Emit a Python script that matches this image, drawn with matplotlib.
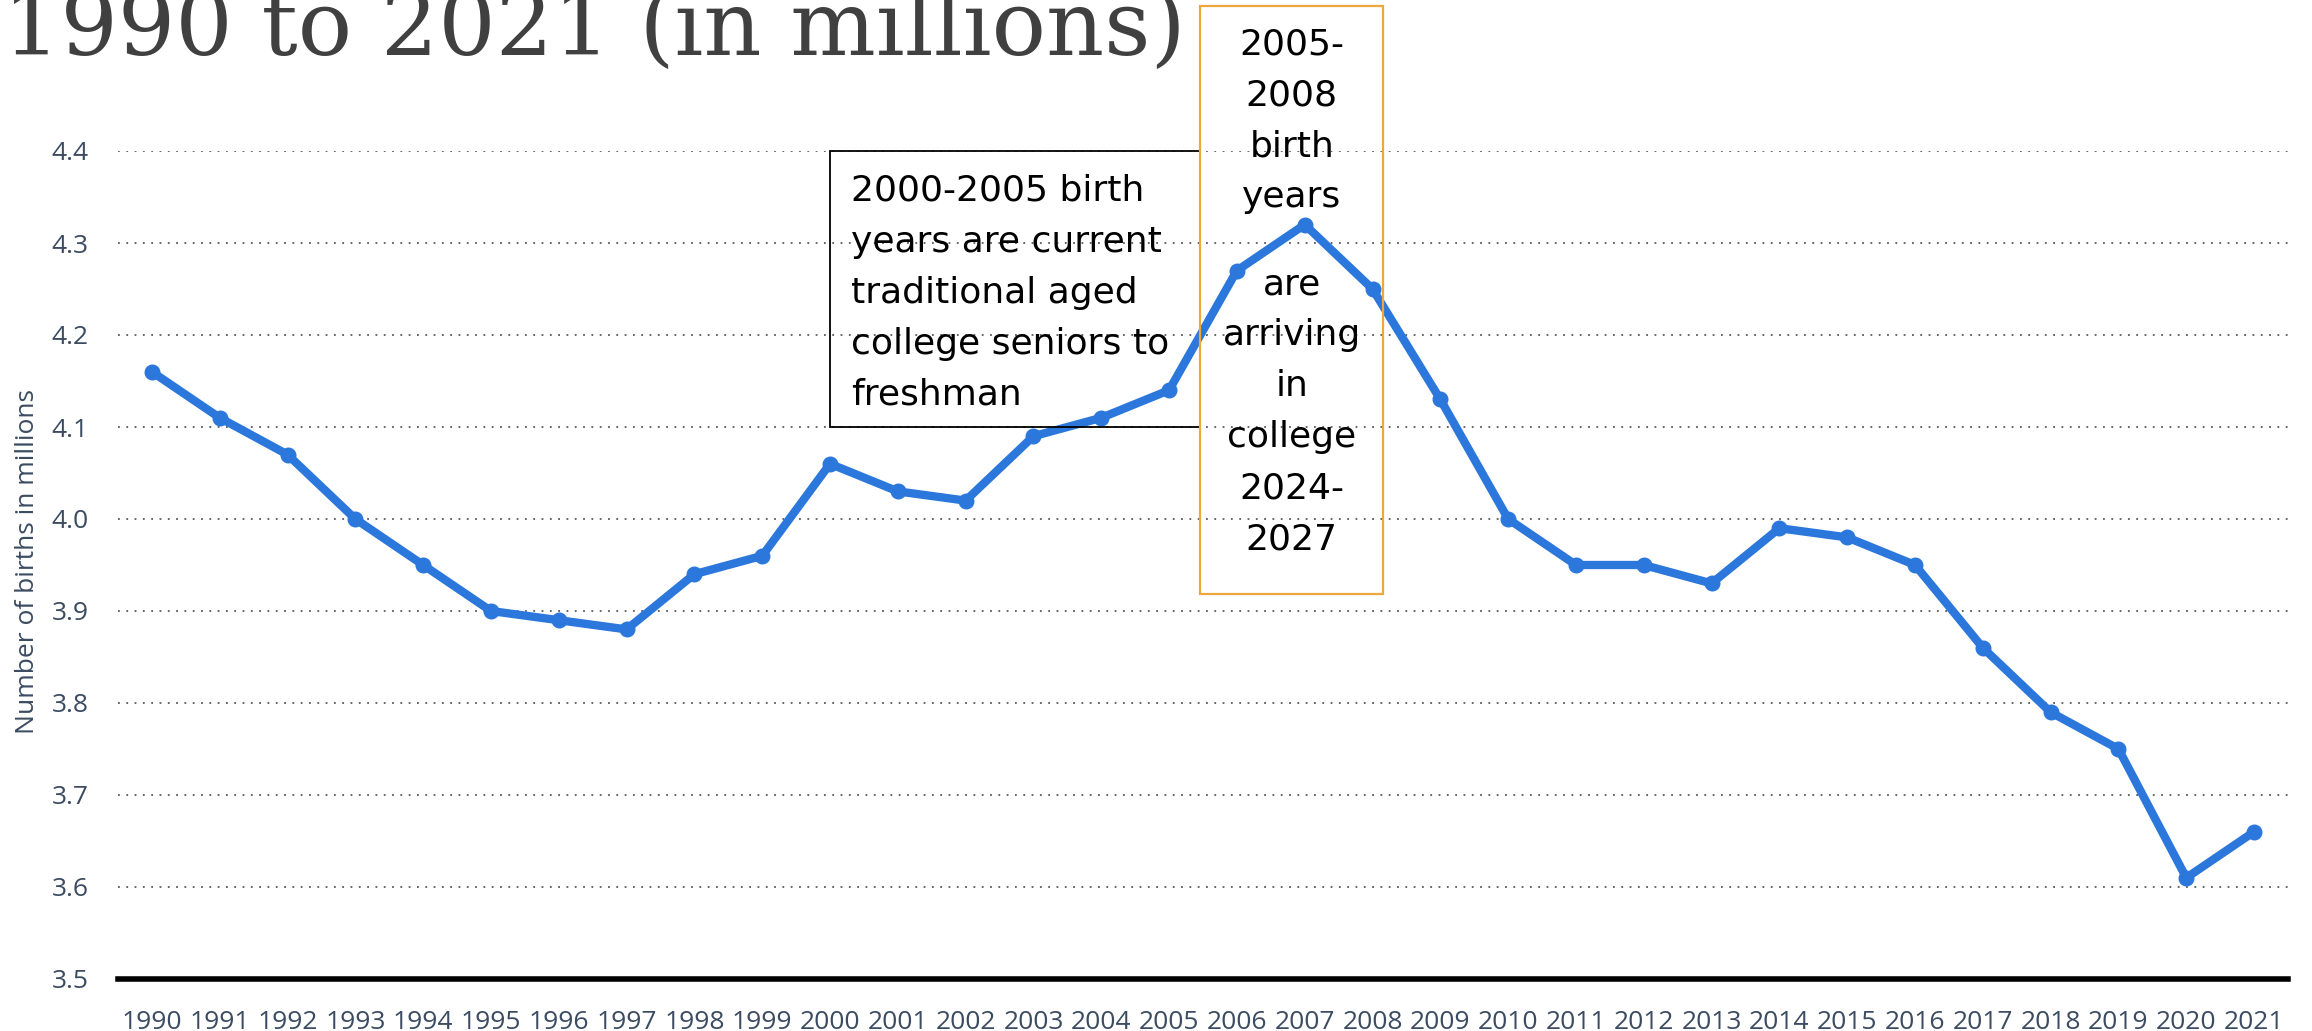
import matplotlib
matplotlib.use("Agg")
import matplotlib.pyplot as plt
from matplotlib.patches import Rectangle

# US births per year, in millions
years = [str(y) for y in range(1990, 2022)]
births = [4.16, 4.11, 4.07, 4.00, 3.95, 3.90, 3.89, 3.88, 3.94, 3.96,
          4.06, 4.03, 4.02, 4.09, 4.11, 4.14, 4.27, 4.32, 4.25, 4.13,
          4.00, 3.95, 3.95, 3.93, 3.99, 3.98, 3.95, 3.86, 3.79, 3.75,
          3.61, 3.66]
y_ticks = [3.5, 3.6, 3.7, 3.8, 3.9, 4.0, 4.1, 4.2, 4.3, 4.4]

title = "1990 to 2021 (in millions)"
y_label = "Number of births in millions"
note_current = ("2000-2005 birth\nyears are current\ntraditional aged\n"
                "college seniors to\nfreshman")
note_next_top = "2005-\n2008\nbirth\nyears"
note_next_bottom = "are\narriving\nin\ncollege\n2024-\n2027"

LINE_BLUE = "#2b77dc"
LABEL_COLOR = "#3b4b61"
ORANGE = "#eda838"

fig = plt.figure(figsize=(23.12, 10.31), dpi=100)
ax = fig.add_axes([118 / 2312, 1 - 979 / 1031, 2170 / 2312, 828 / 1031])

x = list(range(len(years)))
ax.plot(x, births, color=LINE_BLUE, linewidth=6, marker="o",
        markersize=10.5, solid_joinstyle="round", zorder=3)

ax.set_xlim(-0.5, len(years) - 0.5)
ax.set_ylim(3.5, 4.4)
ax.set_xticks(x)
ax.set_xticklabels(years)
ax.set_yticks(y_ticks)
ax.set_yticklabels([f"{v:.1f}" for v in y_ticks])

# dotted horizontal grid, thick black base line
for v in y_ticks[1:]:
    ax.axhline(v, color="#595959", linewidth=1.3, linestyle=(0, (1, 3.6)),
               zorder=1)
ax.axhline(3.5, color="black", linewidth=4, zorder=2, clip_on=False)

for s in ax.spines.values():
    s.set_visible(False)
ax.tick_params(axis="both", length=0, labelcolor=LABEL_COLOR, labelsize=19)
ax.tick_params(axis="x", pad=22)
ax.tick_params(axis="y", pad=21)
for lbl in ax.get_xticklabels() + ax.get_yticklabels():
    lbl.set_fontfamily("Open Sans")

fig.text(28 / 2312, 1 - 562 / 1031, y_label, rotation=90, ha="center",
         va="center", fontsize=19, color=LABEL_COLOR, family="Open Sans")

# title, cropped at the top edge
fig.text(3 / 2312, 1 - 55 / 1031, title, ha="left", va="baseline",
         fontsize=65, color="#404040", family="DejaVu Serif")

# annotation boxes
ax.add_patch(Rectangle((10.0, 4.1), 5.46, 0.3, fill=False, edgecolor="black",
                       linewidth=1.3, clip_on=False, zorder=4))
ax.text(10.31, 4.124, note_current, ha="left", va="baseline", fontsize=26,
        linespacing=1.63, color="black", family="DejaVu Sans", zorder=5)

ax.add_patch(Rectangle((15.46, 3.918), 2.69, 0.64, fill=False,
                       edgecolor=ORANGE, linewidth=1.6, clip_on=False,
                       zorder=4))
ax.text(16.81, 4.339, note_next_top, ha="center", va="baseline", fontsize=26,
        linespacing=1.63, color="black", family="DejaVu Sans", zorder=5,
        clip_on=False)
ax.text(16.81, 3.967, note_next_bottom, ha="center", va="baseline",
        fontsize=26, linespacing=1.63, color="black", family="DejaVu Sans",
        zorder=5)

fig.savefig("out.png", dpi=100, facecolor="white")
